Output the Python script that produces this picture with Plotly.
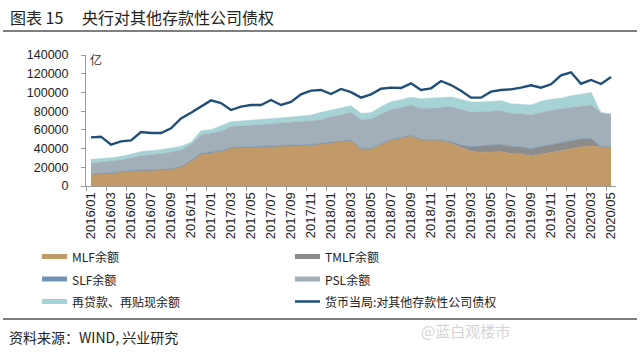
import plotly.graph_objects as go

months = [f"{y}/{m:02d}" for y in range(2016, 2021) for m in range(1, 13)][:53]

mlf = [12500,13200,13500,15000,16000,16700,16700,17100,18200,20300,26700,34200,
       35600,37000,40600,41000,41300,41700,42400,42700,43100,43500,43800,44900,
       46700,47700,48600,39900,39900,44200,49200,51300,53800,49200,49200,48800,
       45500,40800,36800,36000,36000,36700,34500,34200,32100,33800,35600,37000,
       39500,41700,42700,42000,41000]
tmlf = [0]*36 + [1500,2800,5000,7000,7500,7500,7500,7500,7500,8200,8200,8500,
                 8500,8500,7800,0,0]
slf = [400,500,300,300,400,500,400,400,500,600,700,800,
       900,700,600,500,500,600,700,600,500,600,700,800,
       900,700,600,500,400,500,600,500,400,500,600,700,
       500,400,300,300,400,500,400,300,400,500,600,700,
       600,500,400,300,300]
psl = [11300,11600,12600,12800,13500,15200,16400,17000,17600,17600,17100,19900,
       19800,20700,22200,22600,23000,23200,23200,24000,24400,24600,25300,25200,
       26400,27600,29500,30800,31300,31900,32100,31900,32400,33300,33200,34600,
       37300,37900,36600,36100,35900,35800,35300,35300,35900,36200,36500,36400,
       35500,34800,35700,36100,35600]
relend = [4300,3900,3900,3600,3900,4600,4200,4300,4300,3900,2200,4200,
          3900,5700,5300,5400,5400,5800,6000,5700,5700,6100,6100,7800,
          7000,7500,7100,6500,6800,8200,8200,8600,8200,10300,10700,10300,
          10300,10700,11100,10400,10300,10700,10300,10300,10700,11800,11700,11100,
          12400,12500,13500,0,0]
claims = [52000,52700,44100,47700,48800,57700,56600,56600,61600,72300,78300,84800,
          91500,88700,81200,84800,86600,86600,91900,86600,89800,98000,101900,102600,
          98300,103700,100300,94400,98000,104000,105100,104700,109700,102600,104400,112200,
          107900,101900,94400,94400,100800,102600,103300,105100,107600,105100,108700,118300,
          121500,109300,113300,109000,116500]

names = ["MLF余额", "TMLF余额", "SLF余额", "PSL余额", "再贷款、再贴现余额",
         "货币当局:对其他存款性公司债权"]
colors = ["#C19A68", "#8C8C8C", "#7094B6", "#A2AFB9", "#A6D3D6", "#1F4E79"]

W, H = 640, 354
L, R, T, B = 86, 24, 55, 168
PW, PH = W - L - R, H - T - B

def px(x):
    return (x - L) / PW

def py(y):
    return (H - B - y) / PH

fig = go.Figure()
for vals, name, col in zip([mlf, tmlf, slf, psl, relend], names[:5], colors[:5]):
    fig.add_trace(go.Scatter(x=months, y=vals, name=name, mode="lines",
                             stackgroup="one", line=dict(width=0.5, color=col),
                             fillcolor=col, showlegend=False))
fig.add_trace(go.Scatter(x=months, y=claims, name=names[5], mode="lines",
                         line=dict(width=2.4, color=colors[5]), showlegend=False))

shapes = []
annotations = []
FONT = "Noto Sans CJK SC"

# title
annotations.append(dict(x=px(8), y=py(17), xref="paper", yref="paper", text="图表 15",
                        showarrow=False, xanchor="left", yanchor="middle",
                        font=dict(family=FONT, size=16, color="#222")))
annotations.append(dict(x=px(80), y=py(17), xref="paper", yref="paper",
                        text="央行对其他存款性公司债权", showarrow=False,
                        xanchor="left", yanchor="middle",
                        font=dict(family=FONT, size=16, color="#222")))
shapes.append(dict(type="line", xref="paper", yref="paper", x0=px(3), x1=px(637),
                   y0=py(31), y1=py(31), line=dict(color="#555", width=1.5)))
# unit
annotations.append(dict(x=px(88), y=py(60), xref="paper", yref="paper", text="亿",
                        showarrow=False, xanchor="left", yanchor="middle",
                        font=dict(family=FONT, size=12, color="#333")))

# legend (manual)
rows = [256.5, 279, 301.5]
cols = [(42, 70), (295, 323)]
for k in range(6):
    r, c = k // 2, k % 2
    x0, tx = cols[c]
    yc = rows[r]
    if k == 5:
        shapes.append(dict(type="line", xref="paper", yref="paper", x0=px(x0), x1=px(x0 + 25),
                           y0=py(yc), y1=py(yc), line=dict(color=colors[k], width=2.5)))
    else:
        shapes.append(dict(type="rect", xref="paper", yref="paper", x0=px(x0), x1=px(x0 + 25),
                           y0=py(yc - 2.5), y1=py(yc + 2.5), line=dict(width=0),
                           fillcolor=colors[k]))
    annotations.append(dict(x=px(tx), y=py(yc), xref="paper", yref="paper", text=names[k],
                            showarrow=False, xanchor="left", yanchor="middle",
                            font=dict(family=FONT, size=12, color="#222")))

# footer
shapes.append(dict(type="line", xref="paper", yref="paper", x0=px(3), x1=px(637),
                   y0=py(319), y1=py(319), line=dict(color="#555", width=1.5)))
annotations.append(dict(x=px(7), y=py(337), xref="paper", yref="paper",
                        text="资料来源：WIND, 兴业研究", showarrow=False,
                        xanchor="left", yanchor="middle",
                        font=dict(family=FONT, size=14, color="#222")))
annotations.append(dict(x=px(512), y=py(330), xref="paper", yref="paper",
                        text="@蓝白观楼市", showarrow=False,
                        xanchor="right", yanchor="middle",
                        font=dict(family=FONT, size=15, color="#d4d4d4")))

fig.update_layout(
    width=W, height=H, margin=dict(l=L, r=R, t=T, b=B),
    paper_bgcolor="white", plot_bgcolor="white",
    font=dict(family="Liberation Sans, Arial", color="#222"),
    shapes=shapes, annotations=annotations, showlegend=False,
    xaxis=dict(type="category", range=[-0.5, 52.5], tickmode="linear", tick0=0, dtick=2,
               tickangle=-90, tickson="boundaries", ticks="outside", ticklen=4,
               tickcolor="#999", showline=True, linecolor="#999", showgrid=False,
               tickfont=dict(size=13, color="#222", family="Liberation Sans, Arial")),
    yaxis=dict(range=[0, 140000], dtick=20000, tickformat="d", ticks="outside",
               ticklen=4, tickcolor="#999", showline=True, linecolor="#999",
               showgrid=False, zeroline=False, ticklabelstandoff=10,
               tickfont=dict(size=12.5, color="#222", family="Liberation Sans, Arial")),
)

fig.write_html("out.html")
